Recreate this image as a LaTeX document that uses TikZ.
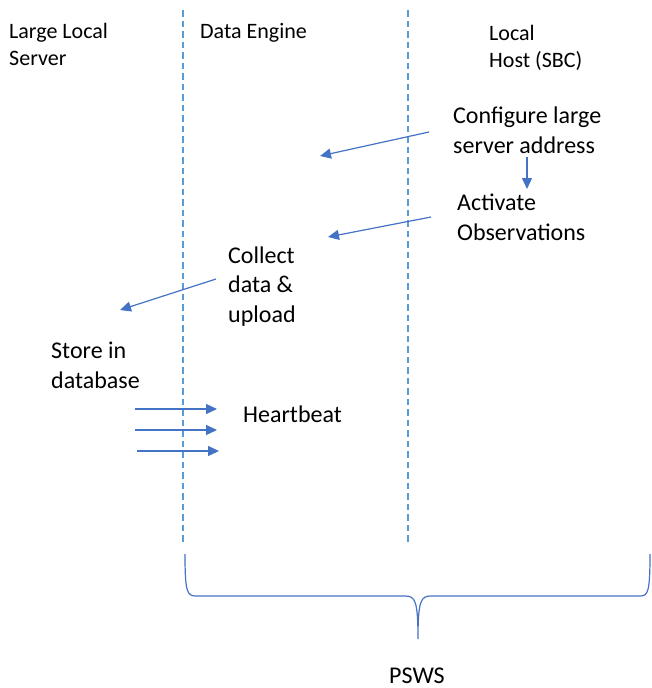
\documentclass[tikz,border=0pt]{standalone}
\usepackage{fontspec}
\setmainfont{Carlito}
\usetikzlibrary{arrows.meta}
\definecolor{officeblue}{HTML}{4472C4}
\definecolor{laneblue}{HTML}{5B9BD5}
\begin{document}
\begin{tikzpicture}[x=1pt, y=-1pt]
        \tikzstyle{headstyle}=[anchor=base west, align=left, inner sep=0pt, font=\fontsize{22}{27}\selectfont]
        \tikzstyle{stepstyle}=[anchor=base west, align=left, inner sep=0pt, font=\fontsize{24}{29.5}\selectfont]
        \tikzstyle{lanestyle}=[laneblue, line width=1.5pt, dash pattern=on 6.5pt off 4pt]
        \tikzstyle{msgstyle}=[officeblue, line width=1.2pt, -{Triangle[length=11pt, width=10pt]}]
        \useasboundingbox (0, 0) rectangle (652, 688);

        % draw the two dashed lines between the lanes
        \draw[lanestyle] (183, 10) -- (183, 543);
        \draw[lanestyle] (408, 10) -- (408, 543);

        % lane titles (a multi-line node sits on its last line)
        \node[headstyle] at (9, 65) (LLS) {Large Local\\Server};
        \node[headstyle] at (200, 38) (DE) {Data Engine};
        \node[headstyle] at (489, 67) (LH) {Local\\Host (SBC)};

        % the steps
        \node[stepstyle] at (453, 153) (CFG) {Configure large\\server address};
        \node[stepstyle] at (457, 240) (ACT) {Activate\\Observations};
        \node[stepstyle] at (228, 322) (COL) {Collect\\data \&\\upload};
        \node[stepstyle] at (51, 388) (STO) {Store in\\database};
        \node[stepstyle] at (243, 422) (HB) {Heartbeat};

        % ends of the messages
        \coordinate (cfgout) at (429, 132);
        \coordinate (cfgin) at (320, 156);
        \coordinate (cfgdown) at (527, 157);
        \coordinate (actup) at (527, 189);
        \coordinate (actout) at (431, 217);
        \coordinate (actin) at (328, 237);
        \coordinate (colout) at (216, 279);
        \coordinate (colin) at (120, 310);

        % draw the messages
        \draw[msgstyle] (cfgout) -- (cfgin);
        \draw[msgstyle] (cfgdown) -- (actup);
        \draw[msgstyle] (actout) -- (actin);
        \draw[msgstyle] (colout) -- (colin);

        % draw the heartbeat arrows
        \foreach \y/\xa in {409/135, 430/135, 451/137} {
            \draw[msgstyle] (\xa, \y) -- (\xa + 82, \y);
        }

        % draw the big brace under the lanes
        \draw[officeblue, line width=1.2pt] (185, 554) .. controls (185, 592) and (187, 596) .. (196, 596)
            -- (405, 596) .. controls (415, 596) and (418, 600) .. (418, 639)
            .. controls (418, 600) and (421, 596) .. (431, 596)
            -- (640, 596) .. controls (648, 596) and (650, 592) .. (650, 554);
        \node[stepstyle, anchor=base] at (417, 683) (PSWS) {PSWS};
    \end{tikzpicture}
\end{document}
